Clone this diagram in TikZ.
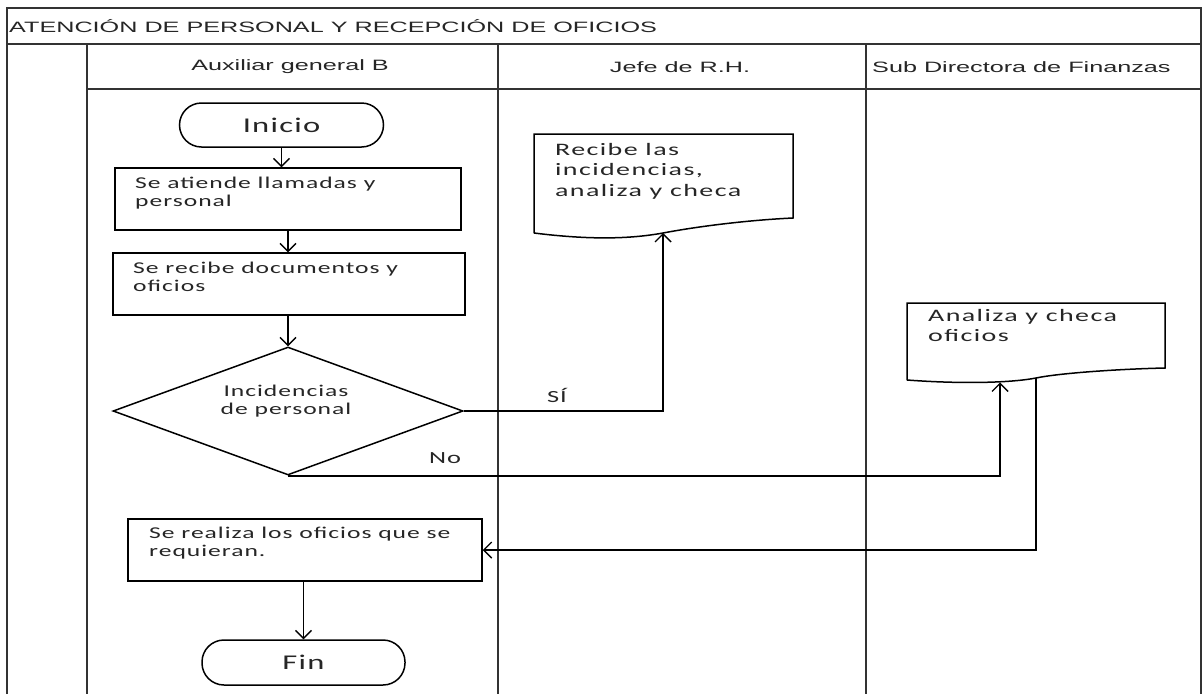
\documentclass[tikz,border=0pt]{standalone}
\usepackage{fontspec}
\setmainfont{Liberation Sans}
\newfontfamily\headfont{Liberation Sans}[FakeStretch=1.68]
\newfontfamily\boxfont{Carlito}[FakeStretch=1.55,LetterSpace=6]
\newfontfamily\docfont{Carlito}[FakeStretch=1.6,LetterSpace=8]
\usetikzlibrary{arrows.meta,shapes.geometric}

\tikzset{
  frame/.style={draw=black!80, line width=1.8pt},
  link/.style={draw=black, line width=1.5pt},
  flow/.style={link, -{Straight Barb[length=8pt,width=16pt,line width=1.4pt]}},
  terminal/.style={draw=black, line width=1.5pt, rounded corners=22pt,
    minimum width=204pt, minimum height=44pt, inner sep=0pt,
    text=black!85, font=\boxfont\fontsize{21}{22}\selectfont},
  procbox/.style={draw=black, line width=1.5pt, inner sep=0pt},
  decision/.style={draw=black, line width=1.5pt, diamond, inner sep=0pt,
    minimum width=350pt, minimum height=128pt},
  boxtext/.style={anchor=north west, inner sep=0pt, align=left, text=black!85,
    font=\boxfont\fontsize{16.5}{17.5}\selectfont},
  doctext/.style={anchor=north west, inner sep=0pt, align=left, text=black!85,
    font=\docfont\fontsize{17.5}{20.5}\selectfont},
  lanehead/.style={inner sep=0pt, text=black!85, font=\headfont\fontsize{15}{18}\selectfont},
  tag/.style={inner sep=0pt, text=black!85, font=\boxfont\fontsize{17}{18}\selectfont}
}

\begin{document}
\begin{tikzpicture}[x=1pt,y=-1pt]
\useasboundingbox (0,0) rectangle (1202,694);
\fill[white] (0,0) rectangle (1202,694);

% pool frame, title row, lane header row and lane separators
\draw[frame] (7,694) -- (7,8) -- (1201,8) -- (1201,694);
\draw[frame] (7,44) -- (1201,44);
\draw[frame] (87,89) -- (1201,89);
\draw[frame] (87,44) -- (87,694);
\draw[frame] (498,44) -- (498,694);
\draw[frame] (866,44) -- (866,694);

\node[lanehead, anchor=west] (title) at (9,26) {ATENCIÓN DE PERSONAL Y RECEPCIÓN DE OFICIOS};
\node[lanehead] (lane1) at (290,67) {Auxiliar general B};
\node[lanehead] (lane2) at (680,67) {Jefe de R.H.};
\node[lanehead, anchor=west] (lane3) at (872,67) {Sub Directora de Finanzas};

% lane 1: Auxiliar general B
\node[terminal] (ini) at (281.5,125) {Inicio};
\node[procbox, minimum width=346pt, minimum height=62pt] (b1) at (288,199) {};
\node[boxtext] (b1t) at (135,177) {Se atiende llamadas y\\personal};
\node[procbox, minimum width=352pt, minimum height=62pt] (b2) at (289,284) {};
\node[boxtext] (b2t) at (133,262) {Se recibe documentos y\\oficios};
\node[decision] (dec) at (288,411) {};
\node[boxtext, anchor=north, align=center] (dect) at (286,385) {Incidencias\\de personal};
\node[procbox, minimum width=354pt, minimum height=62pt] (b3) at (305,550) {};
\node[boxtext] (b3t) at (149,527) {Se realiza los oficios que se\\requieran.};
\node[terminal, minimum width=203pt, minimum height=45pt] (fin) at (303.5,662.5) {Fin};

% lane 2: document symbol of Jefe de R.H.
\draw[link] (534,233) -- (534,134) -- (793,134) -- (793,218)
  .. controls (750,220) and (700,226) .. (663,233)
  .. controls (630,239) and (590,240) .. (534,233);
\coordinate (d1) at (663,233);
\node[doctext] (d1t) at (555,143) {Recibe las\\incidencias,\\analiza y checa};

% lane 3: document symbol of Sub Directora de Finanzas
\draw[link] (907,380) -- (907,303) -- (1165,303) -- (1165,368)
  .. controls (1120,369) and (1060,373) .. (1036,378)
  .. controls (1010,383) and (960,384) .. (907,380);
\coordinate (d2) at (1000,382.5);
\coordinate (d2out) at (1036,378);
\node[doctext] (d2t) at (928,309) {Analiza y checa\\oficios};

% connectors
\draw[flow] (ini.south) -- (ini.south |- b1.north);
\draw[flow] (b1.south) -- (b1.south |- b2.north);
\draw[flow] (b2.south -| dec.north) -- (dec.north);
\draw[flow] (dec.east) -| (d1);
\draw[flow] (dec.south) -| (d2);
\draw[flow] (d2out) |- (b3.east);
\draw[flow] (b3.south -| fin.north) -- (fin.north);

\node[tag] (yes) at (557,395) {SÍ};
\node[tag] (no) at (445,458) {No};
\end{tikzpicture}
\end{document}
